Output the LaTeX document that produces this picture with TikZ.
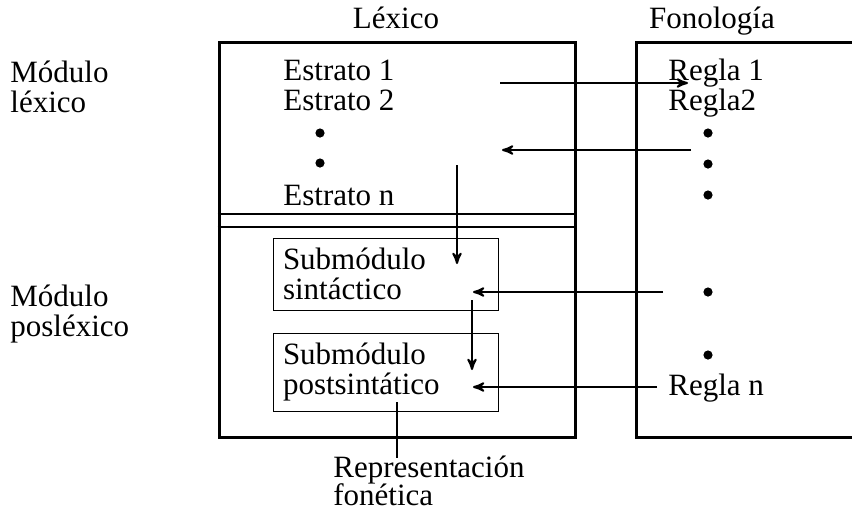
\documentclass[tikz,border=0pt]{standalone}
\usepackage{fontspec}
\setmainfont{Liberation Serif}
\usetikzlibrary{arrows, positioning}

\begin{document}
\begin{tikzpicture}[
    x=0.5pt, y=-0.5pt,
    >=stealth',
    node distance=15pt,
    txt/.style={anchor=base west, inner sep=0pt, font=\fontsize{15.5}{15}\selectfont},
    ttl/.style={anchor=base, inner sep=0pt, font=\fontsize{15.5}{15}\selectfont},
    dot/.style={circle, fill, inner sep=0pt, minimum size=4.6pt},
    subbox/.style={draw, thin, minimum width=112.5pt, minimum height=33pt, text width=102.5pt,
        inner sep=5pt, align=left, font=\fontsize{15.5}{15}\selectfont},
    flow/.style={->, line width=1pt}]
]
    \useasboundingbox (0,0) rectangle (852,510);

    % boxes
    \node[draw, line width=1.5pt, minimum width=178pt, minimum height=197.5pt, inner sep=0pt] (lexbox) at (397,239.5) {};
    \draw[line width=1.5pt] (852,42) -| (636,437) -- (852,437);
    \draw[line width=1pt] (lexbox.west |- 0,214) -- (lexbox.east |- 0,214)
                          (lexbox.west |- 0,227) -- (lexbox.east |- 0,227);

    \node[ttl] (lexico)  at (396,28) {Léxico};
    \node[ttl] (fonolog) at (712,28) {Fonología};

    % left labels
    \node[txt] (mod1) at (10,82) {Módulo};
    \node[txt] (lex)  [below=15pt of mod1.base west, anchor=base west] {léxico};
    \node[txt] (mod2) at (10,306) {Módulo};
    \node[txt] (posl) [below=15pt of mod2.base west, anchor=base west] {posléxico};

    % estratos
    \node[txt] (e1) at (283,80) {Estrato 1};
    \node[txt] (e2) [below=15pt of e1.base west, anchor=base west] {Estrato 2};
    \node[dot] (ed1) at (320,133) {};
    \node[dot] (ed2) at (320,163) {};
    \node[txt] (en) at (283,205) {Estrato n};

    % reglas
    \node[txt] (r1) at (668,80) {Regla 1};
    \node[txt] (r2) [below=15pt of r1.base west, anchor=base west] {Regla2};
    \node[dot] (rd1) at (708,133) {};
    \node[dot] (rd2) at (708,164) {};
    \node[dot] (rd3) at (708,195) {};
    \node[dot] (rd4) at (708,292) {};
    \node[dot] (rd5) at (708,355) {};
    \node[txt] (rn) at (668,395) {Regla n};

    % submodulos
    \node[subbox] (sint) at (385.5,274) {Submódulo\\sintáctico};
    \node[subbox] (post) at (385.5,372.5) {Submódulo\\postsintático};

    \node[txt] (repr) at (333,477) {Representación};
    \node[txt] (fone) [below=14pt of repr.base west, anchor=base west] {fonética};

    % arrows
    \coordinate (a1s) at (500,83);  \coordinate (a1e) at (688,83);
    \coordinate (a2s) at (691,150); \coordinate (a2e) at (502,150);
    \coordinate (a3s) at (457,165); \coordinate (a3e) at (457,264);
    \coordinate (a4s) at (663,292); \coordinate (a4e) at (473,292);
    \coordinate (a5s) at (472,300); \coordinate (a5e) at (472,370);
    \coordinate (a6s) at (657,387); \coordinate (a6e) at (473,387);
    \coordinate (out) at (397,402); \coordinate (rtop) at (397,458);

    \draw[flow] (a1s) -- (a1e);
    \draw[flow] (a2s) -- (a2e);
    \draw[flow] (a3s) -- (a3e);
    \draw[flow] (a4s) -- (a4e);
    \draw[flow] (a5s) -- (a5e);
    \draw[flow] (a6s) -- (a6e);
    \draw[line width=1pt] (out) -- (rtop);
\end{tikzpicture}
\end{document}
